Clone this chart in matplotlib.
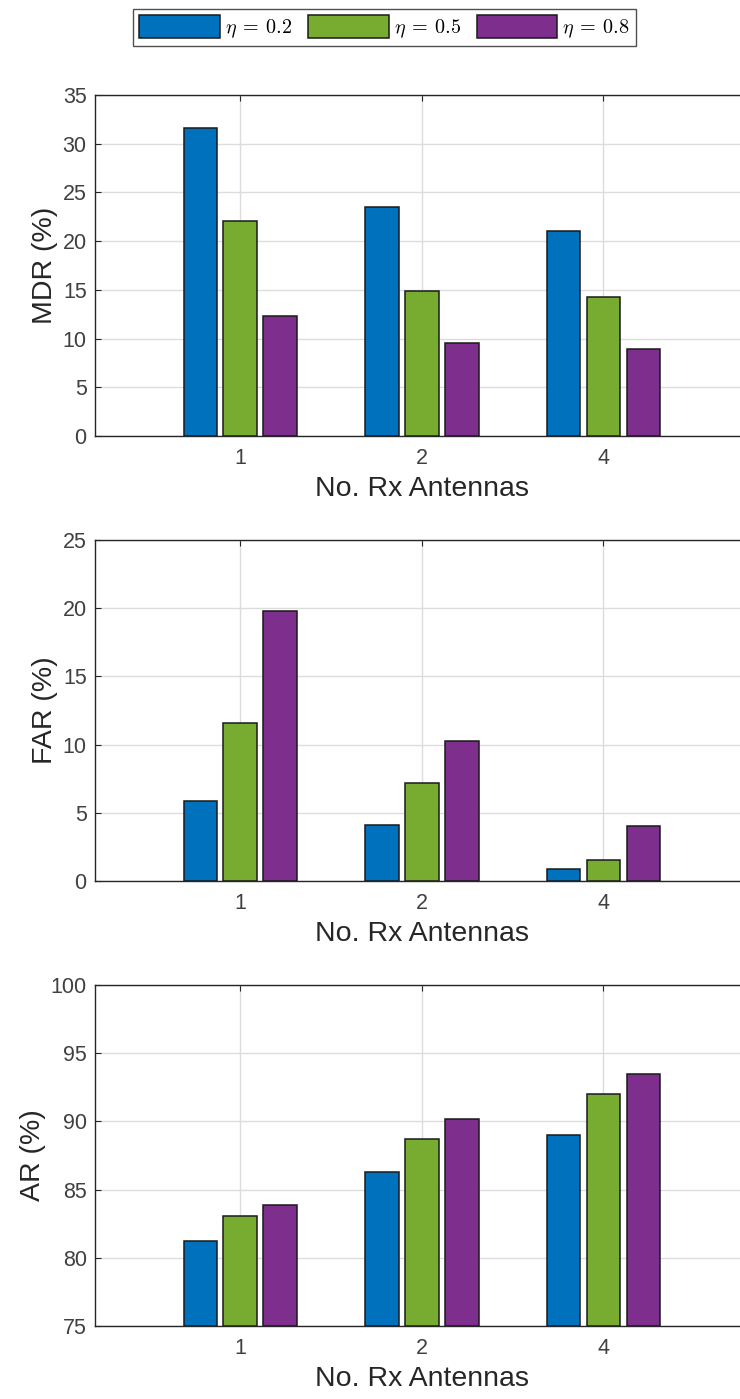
import matplotlib
matplotlib.use("Agg")
import matplotlib.pyplot as plt
import numpy as np

# ---- data ----
antennas = ["1", "2", "4"]
series_labels = [r"$\eta\:=\:0.2$", r"$\eta\:=\:0.5$", r"$\eta\:=\:0.8$"]
mdr_eta02 = [31.6, 23.5, 21.0]
mdr_eta05 = [22.1, 14.9, 14.3]
mdr_eta08 = [12.3, 9.5, 8.9]
far_eta02 = [5.85, 4.1, 0.9]
far_eta05 = [11.55, 7.15, 1.55]
far_eta08 = [19.8, 10.25, 4.0]
ar_eta02 = [81.25, 86.3, 89.0]
ar_eta05 = [83.1, 88.7, 92.0]
ar_eta08 = [83.9, 90.15, 93.5]

colors = ["#0072BD", "#77AC30", "#7E2F8E"]

plt.rcParams['mathtext.fontset'] = 'cm'
plt.rcParams['font.family'] = ['Liberation Sans', 'DejaVu Sans']

W, H = 740, 1399
fig = plt.figure(figsize=(W / 100, H / 100), dpi=100)

panels = [
    ("MDR (%)", [mdr_eta02, mdr_eta05, mdr_eta08], (0, 35), np.arange(0, 36, 5), (95, 436)),
    ("FAR (%)", [far_eta02, far_eta05, far_eta08], (0, 25), np.arange(0, 26, 5), (540, 881)),
    ("AR (%)", [ar_eta02, ar_eta05, ar_eta08], (75, 100), np.arange(75, 101, 5), (985, 1326)),
]

x = np.arange(1, len(antennas) + 1)
offsets = [-0.22, 0.0, 0.22]
bw = 0.185
left_px, right_px = 95, 748.6
tick_color = "#404040"

handles = None
for ylabel, series, ylim, yticks, (top, bot) in panels:
    ax = fig.add_axes([left_px / W, 1 - bot / H, (right_px - left_px) / W, (bot - top) / H])
    hs = []
    for k, vals in enumerate(series):
        b = ax.bar(x + offsets[k], np.array(vals) - ylim[0], bw, bottom=ylim[0],
                   color=colors[k], edgecolor="#1a1a1a", linewidth=1.1, zorder=3,
                   label=series_labels[k])
        hs.append(b)
    handles = hs
    ax.set_xlim(0.2, 3.8)
    ax.set_ylim(*ylim)
    ax.set_xticks(x)
    ax.set_xticklabels(antennas)
    ax.set_yticks(yticks)
    ax.grid(True, color="#dcdcdc", linewidth=1.0, zorder=0)
    ax.set_axisbelow(True)
    for s in ax.spines.values():
        s.set_color("#262626")
        s.set_linewidth(1.0)
    ax.tick_params(axis='x', direction='in', top=True, length=4, width=0.8,
                   colors="#262626", labelcolor=tick_color, labelsize=15.5, pad=9)
    ax.tick_params(axis='y', direction='in', right=True, length=4, width=0.8,
                   colors="#262626", labelcolor=tick_color, labelsize=15.5, pad=6)
    ax.set_xlabel("No. Rx Antennas", fontsize=20.5, color="#262626", labelpad=5)
    ax.set_ylabel(ylabel, fontsize=20.5, color="#262626", labelpad=3)

leg = fig.legend(handles, series_labels, loc="upper left",
                 bbox_to_anchor=(133 / W, 1 - 9 / H), ncol=3, frameon=True,
                 fancybox=False, fontsize=14.5, handlelength=4.0, handleheight=1.35,
                 handletextpad=0.25, columnspacing=0.8, borderpad=0.3,
                 borderaxespad=0)
leg.get_frame().set_edgecolor("#262626")
leg.get_frame().set_linewidth(1.0)

fig.savefig("out.png", dpi=100)
